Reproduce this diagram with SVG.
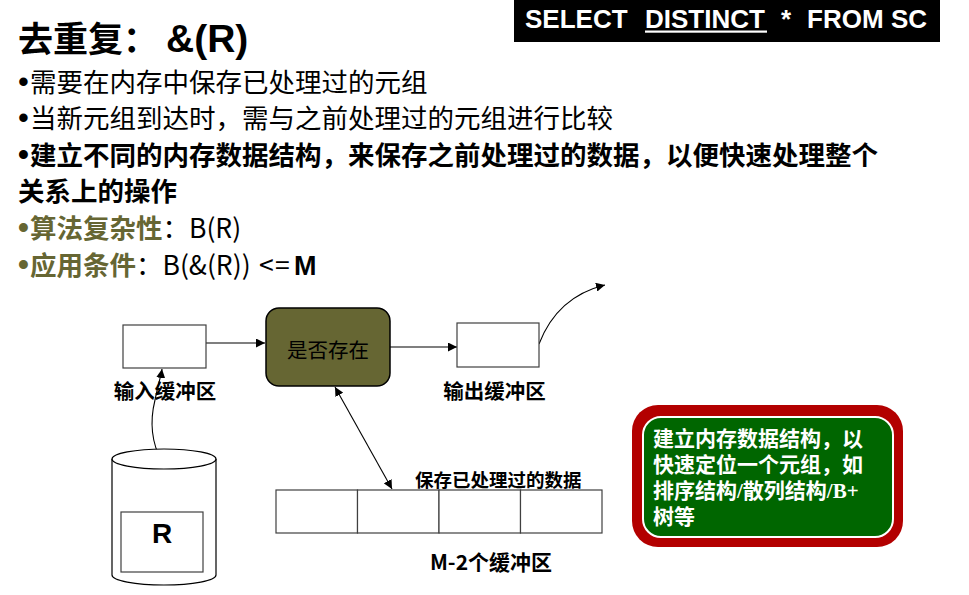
<svg xmlns="http://www.w3.org/2000/svg" width="969" height="595" viewBox="0 0 969 595">
<style>
  .cjk { font-family: "Noto Sans CJK SC", "Liberation Sans", sans-serif; }
  .body { font-size: 26.5px; fill: #000; }
  .bold { font-weight: bold; }
  .olive { fill: #666633; font-weight: bold; }
  .dot { font-family: "Liberation Sans", Arial, sans-serif; font-size: 31px; }
  .sql { font-family: "Liberation Sans", Arial, sans-serif; font-weight: bold; font-size: 26px; fill: #fff; }
  .box { fill: #fff; stroke: #404040; stroke-width: 1.2; }
  .lbl { font-family: "Noto Sans CJK SC", sans-serif; font-weight: bold; fill: #000; }
  .conn { fill: none; stroke: #000; stroke-width: 1.1; }
  .note { font-family: "Noto Sans CJK SC", sans-serif; font-weight: bold; font-size: 21px; fill: #fff; }
</style>
<defs>
  <marker id="arr" viewBox="0 0 10 10" refX="10" refY="5" markerWidth="9" markerHeight="9" markerUnits="userSpaceOnUse" orient="auto-start-reverse">
    <path d="M0,0 L10,5 L0,10 z" fill="#000"/>
  </marker>
</defs>
<rect width="969" height="595" fill="#fff"/>

<!-- Title -->
<text class="cjk bold" x="18" y="52" font-size="35">去重复：<tspan x="166" font-family="Liberation Sans, Arial, sans-serif" font-size="39">&amp;(R)</tspan></text>

<!-- SQL banner -->
<g id="sql-banner">
  <rect x="514" y="0" width="426" height="42" fill="#000"/>
  <text class="sql" x="525" y="28">SELECT</text>
  <text class="sql" x="645" y="28">DISTINCT</text>
  <rect x="645" y="30.5" width="122" height="2.2" fill="#fff"/>
  <text class="sql" x="781" y="28">*</text>
  <text class="sql" x="807" y="28">FROM</text>
  <text class="sql" x="891" y="28">SC</text>
</g>

<!-- Bullets -->
<g id="bullets" class="cjk body">
  <text x="18" y="92"><tspan class="dot">•</tspan><tspan x="30">需要在内存中保存已处理过的元组</tspan></text>
  <text x="18" y="128"><tspan class="dot">•</tspan><tspan x="30">当新元组到达时，需与之前处理过的元组进行比较</tspan></text>
  <text x="18" y="165" class="bold"><tspan class="dot">•</tspan><tspan x="30">建立不同的内存数据结构，来保存之前处理过的数据，以便快速处理整个</tspan></text>
  <text x="18" y="201" class="bold">关系上的操作</text>
  <text x="18" y="238"><tspan class="dot olive">•</tspan><tspan x="30" class="olive">算法复杂性</tspan>：B(R)</text>
  <text x="18" y="275"><tspan class="dot olive">•</tspan><tspan x="30" class="olive">应用条件</tspan>：B(&amp;(R))<tspan x="259">&lt;</tspan><tspan x="275">=</tspan><tspan x="294" font-family="Liberation Sans, Arial, sans-serif" font-weight="bold" font-size="27">M</tspan></text>
</g>

<!-- Connectors -->
<g id="connectors">
  <line class="conn" x1="206" y1="343" x2="265" y2="343" marker-end="url(#arr)"/>
  <line class="conn" x1="390" y1="347" x2="457" y2="347" marker-end="url(#arr)"/>
  <path class="conn" d="M539,344 C549,318 568,294 605,285" marker-end="url(#arr)"/>
  <path class="conn" d="M162,462 C150,440 150,420 155,400 C158,385 161,376 162,369" marker-end="url(#arr)"/>
  <line class="conn" x1="335" y1="387" x2="392" y2="489" marker-start="url(#arr)" marker-end="url(#arr)"/>
</g>

<!-- Input buffer -->
<g id="input-buffer">
  <rect class="box" x="123" y="325" width="83" height="43"/>
  <text class="lbl" x="165" y="399" font-size="20.5" text-anchor="middle">输入缓冲区</text>
</g>

<!-- Check node -->
<g id="check-exists">
  <rect x="266" y="308" width="124" height="78" rx="13" fill="#666633" stroke="#000" stroke-width="1.5"/>
  <text class="cjk" x="328" y="358" font-size="20.5" text-anchor="middle" fill="#000">是否存在</text>
</g>

<!-- Output buffer -->
<g id="output-buffer">
  <rect class="box" x="457" y="323" width="82" height="44"/>
  <text class="lbl" x="494.5" y="399" font-size="20.5" text-anchor="middle">输出缓冲区</text>
</g>

<!-- Relation R cylinder -->
<g id="relation-R">
  <path d="M112,459 L112,575 A52,10 0 0 0 216,575 L216,459" fill="#fff" stroke="#000" stroke-width="1.2"/>
  <ellipse cx="164" cy="459" rx="52" ry="10" fill="#fff" stroke="#000" stroke-width="1.2"/>
  <rect class="box" x="121" y="512" width="82" height="60"/>
  <text x="162" y="543" font-family="Liberation Sans, Arial, sans-serif" font-weight="bold" font-size="28" text-anchor="middle">R</text>
</g>

<!-- Data buffers -->
<g id="data-buffers">
  <rect class="box" x="276" y="490" width="81.5" height="43"/>
  <rect class="box" x="357.5" y="490" width="81.5" height="43"/>
  <rect class="box" x="439" y="490" width="81.5" height="43"/>
  <rect class="box" x="520.5" y="490" width="81.5" height="43"/>
  <text class="lbl" x="415" y="487" font-size="18.5">保存已处理过的数据</text>
  <text class="lbl" x="491" y="570" font-size="21" text-anchor="middle">M-2个缓冲区</text>
</g>

<!-- Note box -->
<g id="note-box">
  <rect x="632" y="405" width="271" height="142" rx="26" fill="#b30000"/>
  <rect x="643" y="417" width="250" height="120" rx="18" fill="#006600" stroke="#fff" stroke-width="2"/>
  <text class="note" x="653" y="446">建立内存数据结构，以</text>
  <text class="note" x="653" y="472">快速定位一个元组，如</text>
  <text class="note" x="653" y="498">排序结构<tspan font-family="Liberation Serif, serif">/</tspan>散列结构<tspan font-family="Liberation Serif, serif">/B+</tspan></text>
  <text class="note" x="653" y="524">树等</text>
</g>
</svg>
